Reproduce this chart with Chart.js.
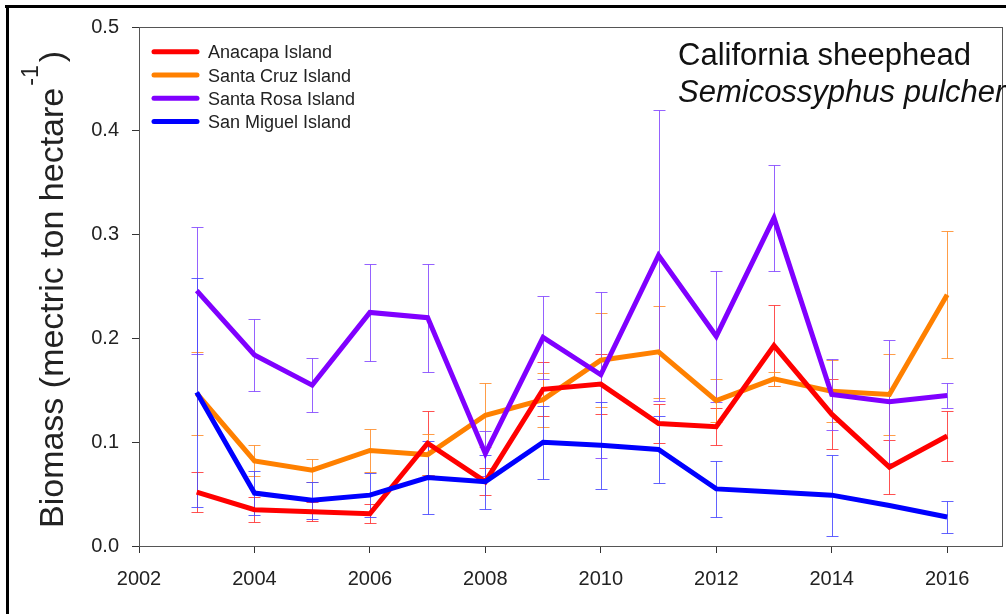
<!DOCTYPE html>
<html>
<head>
<meta charset="utf-8">
<script src="https://cdn.jsdelivr.net/npm/chart.js"></script>
<style>
  html, body { margin: 0; padding: 0; background: #fff; }
  #wrap { width: 1006px; height: 614px; }
</style>
</head>
<body>
<div id="wrap"><canvas id="biomassChart" width="1006" height="614"></canvas></div>
<script>
// survey years and per-island biomass (mean, +/- error)
const years = [2003, 2004, 2005, 2006, 2007, 2008, 2009, 2010, 2011, 2012, 2013, 2014, 2015, 2016];

const anacapa    = [0.052, 0.035, 0.033, 0.031, 0.099, 0.062, 0.151, 0.156, 0.118, 0.115, 0.193, 0.127, 0.076, 0.106];
const anacapaErr = [0.019, 0.012, 0.009, 0.009, 0.031, 0.013, 0.026, 0.029, 0.019, 0.018, 0.039, 0.034, 0.026, 0.024];

const santaCruz    = [0.147, 0.082, 0.073, 0.092, 0.088, 0.126, 0.141, 0.179, 0.187, 0.140, 0.161, 0.149, 0.146, 0.242];
const santaCruzErr = [0.040, 0.015, 0.011, 0.021, 0.020, 0.031, 0.026, 0.045, 0.044, 0.021, 0.007, 0.030, 0.039, 0.061];

const santaRosa    = [0.246, 0.184, 0.155, 0.225, 0.220, 0.089, 0.201, 0.165, 0.280, 0.202, 0.316, 0.146, 0.139, 0.145];
const santaRosaErr = [0.061, 0.035, 0.026, 0.047, 0.052, 0.022, 0.040, 0.080, 0.140, 0.063, 0.051, 0.034, 0.059, 0.012];

const sanMiguel    = [0.148, 0.051, 0.044, 0.049, 0.066, 0.062, 0.100, 0.097, 0.093, 0.055, 0.052, 0.049, 0.039, 0.028];
const sanMiguelErr = [0.110, 0.021, 0.018, 0.021, 0.035, 0.026, 0.035, 0.042, 0.032, 0.027, null, 0.039, null, 0.015];

const xTicks = [2002, 2004, 2006, 2008, 2010, 2012, 2014, 2016];
const yTicks = [0.0, 0.1, 0.2, 0.3, 0.4, 0.5];

const FONT = '"Liberation Sans", Arial, sans-serif';

function series(label, values, errs, color, errColor, order) {
  return {
    label: label,
    data: years.map((yr, i) => ({ x: yr, y: values[i] })),
    errors: errs,
    errColor: errColor,
    borderColor: color,
    backgroundColor: color,
    borderWidth: 5,
    borderJoinStyle: 'miter',
    pointRadius: 0,
    tension: 0,
    fill: false,
    order: order
  };
}

// vertical error bars with caps, drawn under the lines
const errorBars = {
  id: 'errorBars',
  beforeDatasetsDraw(chart) {
    const ctx = chart.ctx;
    const xs = chart.scales.x, ys = chart.scales.y;
    chart.data.datasets.forEach(ds => {
      ctx.save();
      ctx.strokeStyle = ds.errColor;
      ctx.lineWidth = 1;
      ds.data.forEach((pt, j) => {
        const e = ds.errors[j];
        if (e == null) return;
        const px = Math.round(xs.getPixelForValue(pt.x)) + 0.5;
        const top = Math.round(ys.getPixelForValue(pt.y + e)) + 0.5;
        const bot = Math.round(ys.getPixelForValue(pt.y - e)) + 0.5;
        ctx.beginPath();
        ctx.moveTo(px, top); ctx.lineTo(px, bot);
        ctx.moveTo(px - 6, top); ctx.lineTo(px + 6, top);
        ctx.moveTo(px - 6, bot); ctx.lineTo(px + 6, bot);
        ctx.stroke();
      });
      ctx.restore();
    });
  }
};

const decorations = {
  id: 'decorations',
  beforeDraw(chart) {
    const ctx = chart.ctx;
    ctx.save();
    ctx.fillStyle = '#fff';
    ctx.fillRect(0, 0, chart.width, chart.height);
    ctx.restore();
  },
  afterDraw(chart) {
    const ctx = chart.ctx;
    const a = chart.chartArea;
    ctx.save();

    // outer frame (top and left edges only show)
    ctx.fillStyle = '#000';
    ctx.fillRect(5, 5, 1001, 3);
    ctx.fillRect(6, 5, 3, 609);

    // plot box
    ctx.strokeStyle = '#555';
    ctx.lineWidth = 1;
    ctx.strokeRect(Math.round(a.left) + 0.5, Math.round(a.top) + 0.5,
                   Math.round(a.right - a.left), Math.round(a.bottom - a.top));

    // legend
    const ds = chart.data.datasets;
    ds.forEach((d, i) => {
      const cy = 51.7 + i * 23.3;
      ctx.strokeStyle = d.borderColor;
      ctx.lineWidth = 5;
      ctx.lineCap = 'round';
      ctx.beginPath();
      ctx.moveTo(154, cy);
      ctx.lineTo(197, cy);
      ctx.stroke();
      ctx.fillStyle = '#222';
      ctx.font = '18px ' + FONT;
      ctx.textBaseline = 'alphabetic';
      ctx.textAlign = 'left';
      ctx.fillText(d.label, 208, cy + 6.6);
    });

    // species title
    ctx.fillStyle = '#111';
    ctx.font = '31px ' + FONT;
    ctx.fillText('California sheephead', 678, 65);
    ctx.font = 'italic 31px ' + FONT;
    ctx.fillText('Semicossyphus pulcher', 678, 102);

    // y axis title with superscript
    ctx.translate(63, 528);
    ctx.rotate(-Math.PI / 2);
    ctx.fillStyle = '#222';
    ctx.font = '34px ' + FONT;
    const main = 'Biomass (mectric ton hectare';
    ctx.fillText(main, 0, 0);
    let w = ctx.measureText(main).width + 2;
    ctx.font = '23px ' + FONT;
    ctx.fillText('-1', w, -25);
    w += ctx.measureText('-1').width + 3;
    ctx.font = '34px ' + FONT;
    ctx.fillText(')', w, 0);

    ctx.restore();
  }
};

const ctx = document.getElementById('biomassChart').getContext('2d');

new Chart(ctx, {
  type: 'line',
  data: {
    datasets: [
      series('Anacapa Island', anacapa, anacapaErr, '#ff0000', 'rgba(255,50,50,0.85)', 2),
      series('Santa Cruz Island', santaCruz, santaCruzErr, '#ff8000', 'rgba(255,140,40,0.85)', 4),
      series('Santa Rosa Island', santaRosa, santaRosaErr, '#8000ff', 'rgba(130,70,255,0.85)', 3),
      series('San Miguel Island', sanMiguel, sanMiguelErr, '#0000ff', 'rgba(70,70,255,0.85)', 1)
    ]
  },
  options: {
    responsive: false,
    animation: false,
    layout: { padding: { top: 27, right: 4, left: 0, bottom: 0 } },
    plugins: {
      legend: { display: false },
      tooltip: { enabled: false },
      title: { display: false }
    },
    scales: {
      x: {
        type: 'linear',
        min: 2002,
        max: 2016.95,
        afterBuildTicks: scale => { scale.ticks = xTicks.map(v => ({ value: v })); },
        afterFit: scale => { scale.height = 68; },
        grid: { drawOnChartArea: false, drawTicks: true, tickLength: 7, color: '#333' },
        border: { display: true, color: '#555' },
        ticks: {
          color: '#222',
          padding: 14,
          maxRotation: 0,
          font: { family: FONT, size: 20 },
          callback: v => String(v)
        }
      },
      y: {
        type: 'linear',
        min: 0,
        max: 0.5,
        afterBuildTicks: scale => { scale.ticks = yTicks.map(v => ({ value: v })); },
        afterFit: scale => { scale.width = 139; },
        grid: { drawOnChartArea: false, drawTicks: true, tickLength: 7, color: '#333' },
        border: { display: true, color: '#555' },
        ticks: {
          color: '#222',
          padding: 13,
          font: { family: FONT, size: 20 },
          callback: v => v.toFixed(1)
        }
      }
    }
  },
  plugins: [errorBars, decorations]
});
</script>
</body>
</html>
